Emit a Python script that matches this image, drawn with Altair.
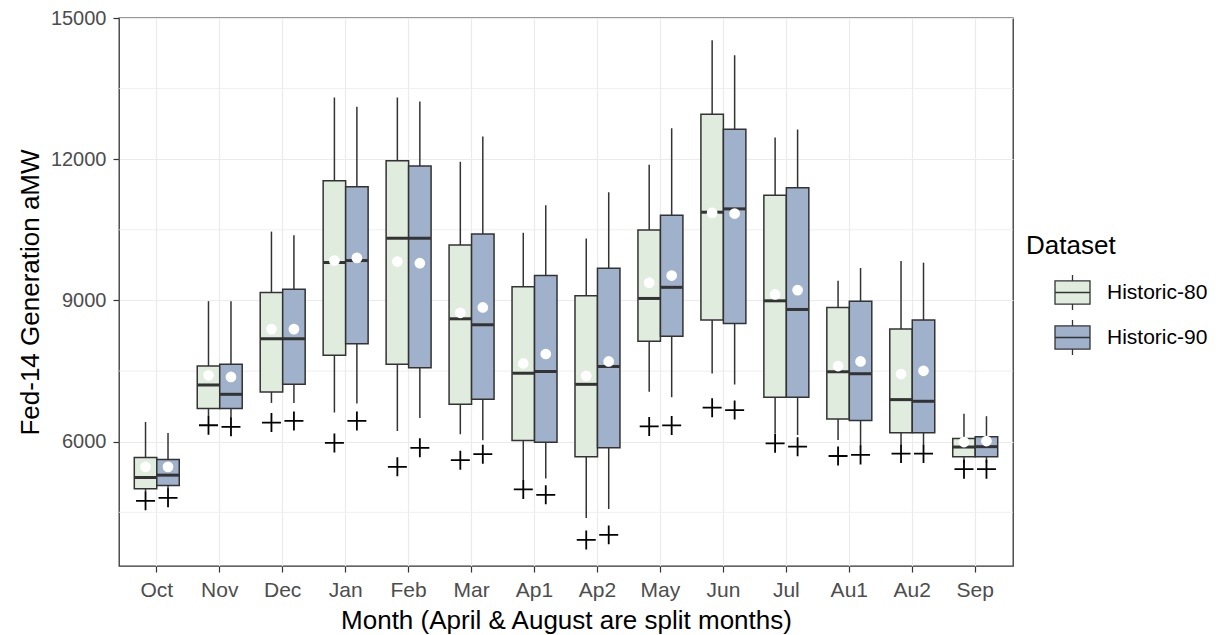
import altair as alt
import pandas as pd

months = ["Oct", "Nov", "Dec", "Jan", "Feb", "Mar", "Ap1", "Ap2", "May", "Jun", "Jul", "Au1", "Au2", "Sep"]
datasets = ["Historic-80", "Historic-90"]

# Historic-80
lo80 = [4950, 6550, 6824, 6618, 6230, 6159, 5180, 4379, 7061, 7451, 6177, 6036, 5950, 5550]
q1_80 = [5000, 6703, 7057, 7834, 7643, 6795, 6024, 5681, 8134, 8583, 6942, 6482, 6190, 5683]
med80 = [5240, 7205, 8187, 9806, 10322, 8611, 7455, 7219, 9043, 10875, 8993, 7486, 6894, 5887]
q3_80 = [5665, 7608, 9170, 11544, 11968, 10180, 9293, 9100, 10495, 12955, 11236, 8852, 8394, 6070]
hi80 = [6420, 8985, 10463, 13310, 13310, 11947, 10438, 10316, 11883, 14526, 12460, 9418, 9838, 6592]
mean80 = [5466, 7410, 8392, 9848, 9827, 8739, 7662, 7398, 9379, 10860, 9128, 7607, 7437, 5993]
plus80 = [4745, 6350, 6406, 5975, 5466, 5608, 4987, 3914, 6325, 6722, 5965, 5696, 5747, 5416]

# Historic-90
lo90 = [5000, 6500, 6824, 6809, 6506, 6032, 5216, 4572, 6947, 7217, 6142, 5900, 5950, 5550]
q1_90 = [5071, 6703, 7219, 8081, 7572, 6901, 5988, 5874, 8242, 8512, 6942, 6451, 6190, 5683]
med90 = [5290, 7007, 8187, 9848, 10322, 8484, 7491, 7598, 9279, 10946, 8809, 7444, 6859, 5895]
q3_90 = [5623, 7643, 9240, 11417, 11855, 10413, 9530, 9687, 10810, 12637, 11392, 8986, 8585, 6106]
hi90 = [6187, 8985, 10385, 13113, 13226, 12484, 11025, 11297, 12656, 14208, 12630, 9690, 9803, 6542]
mean90 = [5466, 7375, 8392, 9904, 9792, 8852, 7863, 7705, 9530, 10847, 9220, 7704, 7507, 6014]
plus90 = [4809, 6315, 6442, 6442, 5870, 5735, 4872, 4021, 6346, 6673, 5894, 5719, 5747, 5416]

minor_grid = [4500, 7500, 10500, 13500]
y_ticks = [6000, 9000, 12000, 15000]

rows = []
series = {
    "Historic-80": (lo80, q1_80, med80, q3_80, hi80, mean80, plus80),
    "Historic-90": (lo90, q1_90, med90, q3_90, hi90, mean90, plus90),
}
for ds, (lo, q1, med, q3, hi, mn, pl) in series.items():
    for i, m in enumerate(months):
        rows.append(dict(month=m, dataset=ds, lo=lo[i], q1=q1[i], med=med[i],
                         q3=q3[i], hi=hi[i], mean=mn[i], plus=pl[i]))
df = pd.DataFrame(rows)
grid_df = pd.DataFrame({"v": minor_grid})

FONT = "Liberation Sans"
DARK = "#333333"

xenc = alt.X("month:N", sort=months,
             scale=alt.Scale(paddingInner=0, paddingOuter=0.1),
             axis=alt.Axis(title="Month (April & August are split months)",
                           bandPosition=0.5, labelAngle=0, labelPadding=7,
                           titlePadding=7, labelFontSize=21))
xoff = alt.XOffset("dataset:N", sort=datasets,
                   scale=alt.Scale(paddingInner=0, paddingOuter=0.4))
yscale = alt.Scale(domain=[3360, 15000], nice=False, zero=False)
yaxis = alt.Axis(title="Fed-14 Generation aMW", values=y_ticks, format="d",
                 labelPadding=7, titlePadding=7, labelFontSize=20)

base = alt.Chart(df)

grid = alt.Chart(grid_df).mark_rule(color="#ebebeb", strokeWidth=0.8).encode(
    y=alt.Y("v:Q", scale=yscale, axis=yaxis)
)

whisker = base.mark_rule(color=DARK, strokeWidth=1.5).encode(
    x=xenc, xOffset=xoff,
    y=alt.Y("lo:Q", scale=yscale, axis=yaxis), y2="hi:Q"
)

legend_symbol = ("M0.6,-0.66H2.6V0.66H0.6Z M0.6,0H2.6 "
                 "M1.6,-1V-0.66 M1.6,0.66V1")

boxes = base.mark_bar(stroke=DARK, strokeWidth=1.5, opacity=1).encode(
    x=xenc, xOffset=xoff,
    y=alt.Y("q1:Q", scale=yscale, axis=yaxis), y2="q3:Q",
    fill=alt.Fill("dataset:N", sort=datasets,
                  scale=alt.Scale(domain=datasets, range=["#E0ECDE", "#A0B1CB"]),
                  legend=alt.Legend(
                      title="Dataset", orient="none", legendX=907, legendY=215,
                      symbolType=legend_symbol,
                      symbolSize=1225, symbolStrokeColor=DARK, symbolStrokeWidth=1.3,
                      symbolOpacity=1, rowPadding=4, labelOffset=44, titlePadding=15,
                      titleFont=FONT, titleFontSize=26, titleFontWeight="normal",
                      titleColor="black", labelFont=FONT, labelFontSize=21,
                      labelColor="black"))
)

median = base.mark_tick(color=DARK, thickness=3, size=22, opacity=1).encode(
    x=xenc, xOffset=xoff,
    y=alt.Y("med:Q", scale=yscale, axis=yaxis)
)

means = base.mark_point(shape="circle", filled=True, color="white", opacity=1,
                        size=115).encode(
    x=xenc, xOffset=xoff,
    y=alt.Y("mean:Q", scale=yscale, axis=yaxis)
)

plus = base.mark_point(shape="M-1,0H1M0,-1V1", filled=False, color="black",
                       strokeWidth=1.8, opacity=1, size=360).encode(
    x=xenc, xOffset=xoff,
    y=alt.Y("plus:Q", scale=yscale, axis=yaxis)
)

chart = alt.layer(grid, whisker, boxes, median, means, plus).properties(
    width=894, height=548,
    padding={"left": 111, "top": 10, "right": 200, "bottom": 72},
    autosize="none",
).configure_view(
    stroke=DARK, strokeWidth=1.3
).configure_axis(
    grid=True, gridColor="#ebebeb", gridWidth=1.2, domain=False,
    tickColor=DARK, tickSize=6, tickWidth=1.2,
    labelColor="#4d4d4d", labelFont=FONT, labelFontSize=21,
    titleFont=FONT, titleFontSize=26, titleFontWeight="normal", titleColor="black",
)

chart.save("out.html", embed_options={"renderer": "svg", "actions": False})
